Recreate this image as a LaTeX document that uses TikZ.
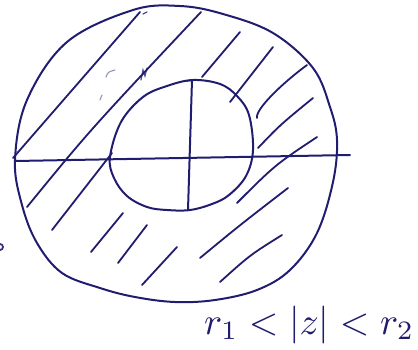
\documentclass[tikz,border=0pt]{standalone}
\usetikzlibrary{calc}
\definecolor{ink}{RGB}{32,28,110}
\begin{document}
\begin{tikzpicture}[x=1pt,y=-1pt,
  pen/.style={draw=ink,line width=2pt,line cap=round,line join=round},
  hatch/.style={pen,line width=1.8pt},
  faint/.style={draw=ink,line width=1.2pt,line cap=round,opacity=0.45}]
\useasboundingbox (0,0) rectangle (418,349);
% outer boundary
\draw[pen] plot[smooth cycle,tension=0.6] coordinates{
 (15,160) (22,205) (37,243) (62,273) (100,288) (135,297) (175,302) (215,300)
 (257,290) (290,270) (317,233) (333,182) (337,140) (330,107) (313,68)
 (273,33) (223,14) (180,6) (133,10) (67,42) (27,100)};
% inner boundary
\draw[pen] plot[smooth cycle,tension=0.6] coordinates{
 (110,157) (114,178) (127,196) (147,207) (167,210) (190,210) (212,204)
 (229,195) (246,176) (253,150) (249,115) (237,96) (220,84) (193,80)
 (167,86) (143,97) (121,122)};
% axes
\coordinate (xl) at (15,161); \coordinate (xr) at (350,155);
\coordinate (yt) at (192,80); \coordinate (yb) at (188,210);
\draw[pen] (xl) -- (xr);
\draw[pen] (yt) -- (yb);
\draw[pen,line width=1.4pt] (186,81) -- (196,80);
% hatching
\draw[hatch] (13,158) -- (140,12);
\draw[hatch] (27,207) .. controls (90,130) .. (201,12);
\draw[hatch] (52,230) -- (112,153);
\draw[hatch] (91,252) -- (123,213);
\draw[hatch] (118,263) -- (147,225);
\draw[hatch] (142,285) -- (177,247);
\draw[hatch] (202,77) -- (240,32);
\draw[hatch] (230,102) -- (273,47);
\draw[hatch] (257,118) .. controls (255,110) and (280,85) .. (307,65);
\draw[hatch] (258,148) .. controls (280,125) .. (313,98);
\draw[hatch] (237,203) .. controls (275,165) .. (317,137);
\draw[hatch] (200,258) .. controls (240,225) .. (288,188);
\draw[hatch] (220,282) .. controls (250,255) .. (282,235);
% small ink marks
\draw[faint] (106,77) .. controls (108,72) .. (115,70);
\draw[faint] (100,100) -- (102,95);
\draw[faint,opacity=0.8] (141,80) -- (143,70) -- (145,76) -- (147,68);
\draw[faint,opacity=0.8] (143,14) -- (147,12);
\draw[faint,opacity=0.9,line width=1.8pt] (0,250) arc[start angle=90,end angle=-90,radius=3];
% label
\node[ink,anchor=base west,inner sep=0pt] (lab) at (204,334)
  {\resizebox{210pt}{!}{$r_{1}<|z|<r_{2}$}};
\end{tikzpicture}
\end{document}
